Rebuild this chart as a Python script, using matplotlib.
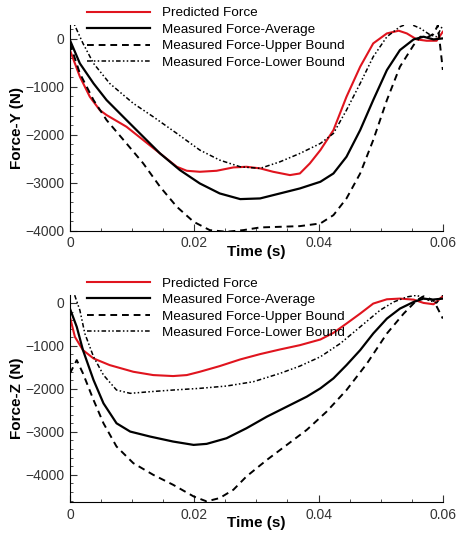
import numpy as np
import matplotlib
matplotlib.use("Agg")
import matplotlib.pyplot as plt
from matplotlib.ticker import MultipleLocator, FixedLocator

plt.rcParams['font.family'] = ['Liberation Sans', 'DejaVu Sans']

labels = ['Predicted Force', 'Measured Force-Average',
          'Measured Force-Upper Bound', 'Measured Force-Lower Bound']

# Force-Y
y_pred_t = [0, 0.0016, 0.0032, 0.0048, 0.0059, 0.0091, 0.0118, 0.0145, 0.0172, 0.0188,
            0.0209, 0.0236, 0.0263, 0.0284, 0.0306, 0.0327, 0.0354, 0.0370, 0.0386, 0.0403,
            0.0424, 0.0445, 0.0467, 0.0488, 0.0510, 0.0529, 0.0542, 0.0558, 0.0574, 0.0590, 0.060]
y_pred_f = [-236, -790, -1208, -1486, -1590, -1833, -2111, -2389, -2667, -2750,
            -2771, -2750, -2680, -2667, -2700, -2771, -2840, -2806, -2597, -2319,
            -1903, -1208, -583, -97, 111, 167, 111, -14, -42, -42, 146]
y_avg_t = [0, 0.0016, 0.0038, 0.0059, 0.0091, 0.0118, 0.0145, 0.0177, 0.0209, 0.0241,
           0.0274, 0.0306, 0.0338, 0.0370, 0.0403, 0.0424, 0.0445, 0.0467, 0.0488, 0.0510,
           0.0531, 0.0553, 0.0569, 0.0585, 0.060]
y_avg_f = [-28, -514, -931, -1278, -1694, -2042, -2389, -2736, -3014, -3222,
           -3340, -3326, -3222, -3118, -2979, -2806, -2458, -1903, -1278, -653,
           -236, -14, 42, -14, 7]
y_up_t = [0, 0.0016, 0.0038, 0.0059, 0.0091, 0.0118, 0.0145, 0.0172, 0.0199, 0.0225,
          0.0252, 0.0279, 0.0306, 0.0338, 0.0370, 0.0403, 0.0424, 0.0445, 0.0467, 0.0488,
          0.0510, 0.0531, 0.0553, 0.0564, 0.0575, 0.0585, 0.0592, 0.060]
y_up_f = [-97, -722, -1278, -1694, -2181, -2597, -3083, -3500, -3812, -3986,
          -4021, -3986, -3930, -3917, -3903, -3847, -3674, -3326, -2806, -2111,
          -1278, -583, -132, 42, 30, 100, 280, -650]
y_lo_t = [0, 0.0021, 0.0038, 0.0064, 0.0102, 0.0134, 0.0172, 0.0209, 0.0241, 0.0274,
          0.0306, 0.0338, 0.0370, 0.0403, 0.0424, 0.0445, 0.0467, 0.0488, 0.0510, 0.0531,
          0.0545, 0.0564, 0.0580, 0.0590, 0.060]
y_lo_f = [500, -97, -514, -931, -1347, -1625, -1972, -2319, -2528, -2667,
          -2700, -2563, -2389, -2181, -1972, -1486, -931, -375, 42, 250,
          320, 215, 76, 42, 280]

# Force-Z
z_pred_t = [0, 0.0008, 0.0021, 0.0038, 0.0064, 0.0102, 0.0134, 0.0166, 0.0188, 0.0209,
            0.0241, 0.0274, 0.0306, 0.0338, 0.0370, 0.0403, 0.0424, 0.0445, 0.0467, 0.0488,
            0.0510, 0.0531, 0.0553, 0.0569, 0.0585, 0.060]
z_pred_f = [-325, -789, -1099, -1292, -1447, -1602, -1679, -1702, -1679, -1602,
            -1470, -1315, -1191, -1083, -983, -851, -696, -480, -248, -15,
            85, 101, 77, 0, -31, 155]
z_avg_t = [0, 0.0011, 0.0021, 0.0038, 0.0054, 0.0075, 0.0097, 0.0129, 0.0166, 0.0199,
           0.0220, 0.0252, 0.0284, 0.0317, 0.0349, 0.0381, 0.0403, 0.0424, 0.0445, 0.0467,
           0.0488, 0.0510, 0.0531, 0.0553, 0.0569, 0.0583, 0.060]
z_avg_f = [-132, -557, -1099, -1795, -2337, -2801, -2994, -3110, -3226, -3304,
           -3280, -3149, -2917, -2646, -2414, -2182, -1988, -1756, -1447, -1099,
           -712, -364, -132, 23, 101, 77, 100]
z_up_t = [0, 0.0011, 0.0021, 0.0038, 0.0054, 0.0075, 0.0102, 0.0134, 0.0166, 0.0199,
          0.0220, 0.0241, 0.0263, 0.0284, 0.0317, 0.0349, 0.0381, 0.0413, 0.0445, 0.0478,
          0.0510, 0.0537, 0.0558, 0.0569, 0.0585, 0.060]
z_up_f = [-1640, -1331, -1640, -2259, -2801, -3342, -3729, -4000, -4232, -4503,
          -4619, -4541, -4348, -4039, -3652, -3304, -2955, -2530, -2027, -1408,
          -712, -248, 62, 155, 62, -364]
z_lo_t = [0, 0.0016, 0.0024, 0.0038, 0.0054, 0.0075, 0.0097, 0.0129, 0.0166, 0.0209,
          0.0252, 0.0295, 0.0338, 0.0370, 0.0403, 0.0435, 0.0467, 0.0499, 0.0521, 0.0542,
          0.0558, 0.0574, 0.0590, 0.060]
z_lo_f = [500, -170, -712, -1253, -1679, -2027, -2104, -2066, -2027, -1988,
          -1934, -1834, -1640, -1470, -1253, -944, -557, -170, 23, 139,
          178, 77, 0, 178]

styles = [dict(color='#e0141e', lw=1.5, ls='-'),
          dict(color='black', lw=1.6, ls='-'),
          dict(color='black', lw=1.4, ls=(0, (3.5, 2.5))),
          dict(color='black', lw=1.1, ls=(0, (3, 1.5, 1, 1.5, 1, 1.5)))]

fig = plt.figure(figsize=(4.57, 5.33), dpi=100)
ax1 = fig.add_axes([0.153, 0.567, 0.816, 0.386])
ax2 = fig.add_axes([0.153, 0.058, 0.816, 0.388])


def setup(ax, series, ylab, ylim, leg_top):
    for (t, f), st, lab in zip(series, styles, labels):
        ax.plot(t, f, label=lab, **st)
    ax.set_xlim(0, 0.06)
    ax.set_ylim(*ylim)
    for s in ['top', 'right']:
        ax.spines[s].set_visible(False)
    ax.xaxis.set_major_locator(FixedLocator([0, 0.02, 0.04, 0.06]))
    ax.xaxis.set_minor_locator(MultipleLocator(0.005))
    ax.yaxis.set_major_locator(FixedLocator([-4000, -3000, -2000, -1000, 0]))
    ax.yaxis.set_minor_locator(MultipleLocator(200))
    ax.set_xticklabels(['0', '0.02', '0.04', '0.06'])
    ax.tick_params(which='both', direction='in', labelsize=10, colors='#333333')
    ax.tick_params(which='major', length=5, pad=4)
    ax.tick_params(which='minor', length=2.5)
    ax.set_xlabel('Time (s)', fontsize=11, fontweight='bold', labelpad=-4)
    ax.set_ylabel(ylab, fontsize=11, fontweight='bold', labelpad=1)
    ax.legend(loc='upper left', bbox_to_anchor=(0.19, leg_top),
              bbox_transform=fig.transFigure, frameon=False, fontsize=9.7,
              handlelength=4.7, handletextpad=0.9, labelspacing=0.3,
              borderpad=0, borderaxespad=0)


setup(ax1, [(y_pred_t, y_pred_f), (y_avg_t, y_avg_f), (y_up_t, y_up_f), (y_lo_t, y_lo_f)],
      'Force-Y (N)', (-4000, 285), 0.987)
setup(ax2, [(z_pred_t, z_pred_f), (z_avg_t, z_avg_f), (z_up_t, z_up_f), (z_lo_t, z_lo_f)],
      'Force-Z (N)', (-4635, 178), 0.480)

fig.savefig('out.png', dpi=100)
